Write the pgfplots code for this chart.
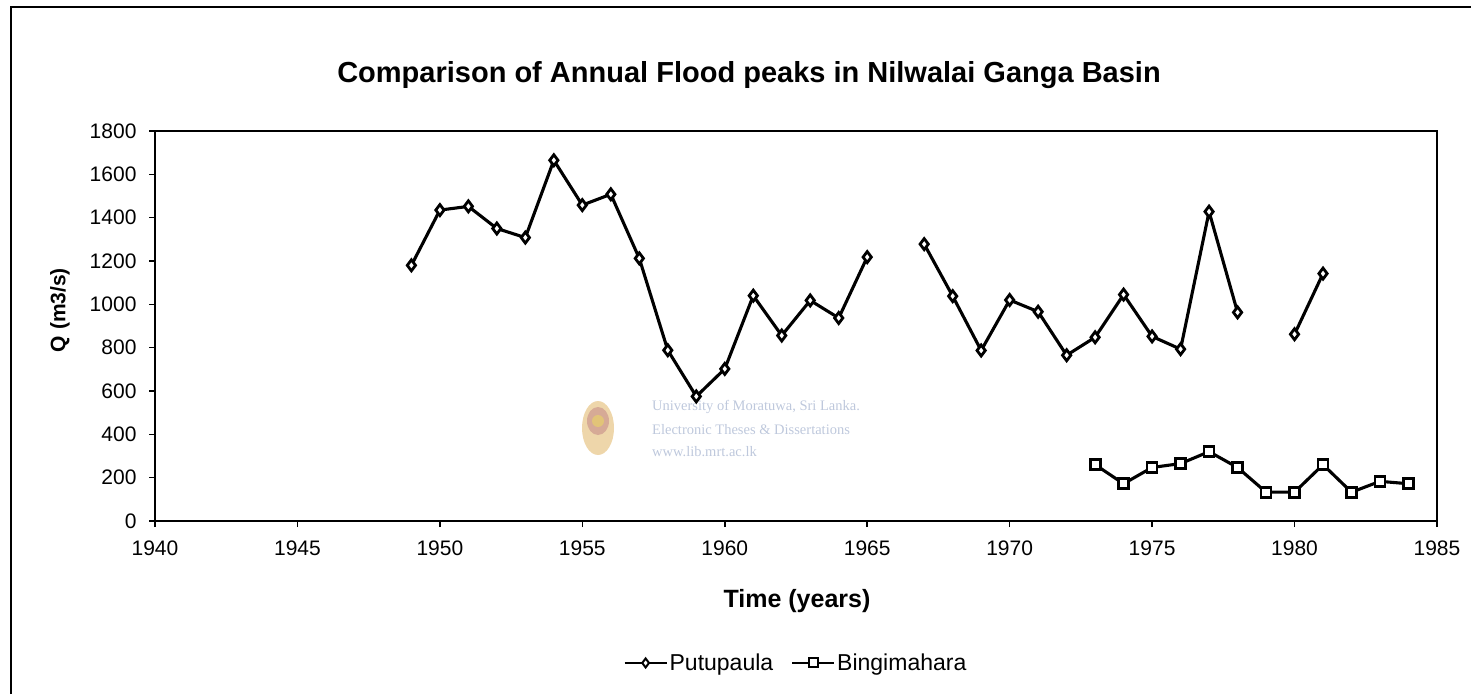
\documentclass[border=0pt]{standalone}
\usepackage{fontspec}
\setmainfont{Liberation Sans}
\newfontfamily\serifwm{Liberation Serif}
\usepackage{pgfplots}
\pgfplotsset{compat=1.18}
\usepackage{pgfplotstable}
\definecolor{wm}{RGB}{190,200,220}
\definecolor{logoA}{RGB}{238,214,170}
\definecolor{logoB}{RGB}{214,170,150}
\definecolor{logoC}{RGB}{226,196,120}

\pgfplotstableread{
year q
1949 1180
1950 1435
1951 1452
1952 1350
1953 1308
1954 1665
1955 1458
1956 1508
1957 1212
1958 788
1959 575
1960 702
1961 1040
1962 856
1963 1018
1964 937
1965 1218
1966 nan
1967 1278
1968 1038
1969 787
1970 1020
1971 966
1972 765
1973 848
1974 1045
1975 852
1976 793
1977 1428
1978 963
1979 nan
1980 862
1981 1142
}\putu

\pgfplotstableread{
year q
1973 260
1974 172
1975 247
1976 265
1977 320
1978 247
1979 133
1980 133
1981 260
1982 133
1983 183
1984 172
}\bingi

\begin{document}
\begin{tikzpicture}[x=1pt,y=1pt]
\useasboundingbox (-155,-173) rectangle (1316,521);
\draw[line width=1.5pt] (-144,-173) -- (-144,514) -- (1316,514);
% watermark
\fill[logoA] (443pt,93pt) ellipse (16pt and 27pt);
\fill[logoB] (443pt,100pt) ellipse (11pt and 14pt);
\fill[logoC] (443pt,100pt) circle (6pt);
\node[anchor=west, text=wm, font=\serifwm\fontsize{14.5}{17}\selectfont, inner sep=0pt] at (497,114) {University of Moratuwa, Sri Lanka.};
\node[anchor=west, text=wm, font=\serifwm\fontsize{14.5}{17}\selectfont, inner sep=0pt] at (497,91) {Electronic Theses \& Dissertations};
\node[anchor=west, text=wm, font=\serifwm\fontsize{14.5}{17}\selectfont, inner sep=0pt] at (497,69) {www.lib.mrt.ac.lk};
\begin{axis}[
  at={(0,0)}, anchor=south west,
  width=1282pt, height=390pt, scale only axis,
  xmin=1940, xmax=1985, ymin=0, ymax=1800,
  xtick={1940,1945,...,1985},
  ytick={0,200,...,1800},
  tick align=outside, tick pos=left,
  major tick length=6pt,
  axis line style={line width=1.6pt},
  every tick/.style={line width=1.5pt, black},
  ticklabel style={font=\fontsize{21}{25}\selectfont},
  xticklabel style={yshift=-10pt},
  yticklabel style={xshift=-9pt},
  /pgf/number format/1000 sep={},
  /pgf/number format/assume math mode=true,
  unbounded coords=jump,
  clip=false,
  legend style={at={(axis description cs:0.5,-0.364)}, anchor=center, draw=none, fill=none,
    legend columns=2, font=\fontsize{23}{27}\selectfont,
    /tikz/every even column/.append style={column sep=16pt}},
  legend image code/.code={\draw[mark repeat=2, mark phase=2, #1, line width=2pt, mark size=4.5pt, mark options={line width=2pt, fill=white}] plot coordinates {(0pt,0pt) (21pt,0pt) (42pt,0pt)};},
]
\addplot[black, line width=3.1pt, mark=diamond*, mark size=5.5pt, mark options={fill=white, line width=2.8pt, solid}] table[x=year, y=q] {\putu};
\addlegendentry{Putupaula}
\addplot[black, line width=3.1pt, mark=square*, mark size=5pt, mark options={fill=white, line width=2.8pt, solid}] table[x=year, y=q] {\bingi};
\addlegendentry{Bingimahara}
\end{axis}
\node[font=\bfseries\fontsize{29}{34}\selectfont] at (594,446) {Comparison of Annual Flood peaks in Nilwalai Ganga Basin};
\node[font=\bfseries\fontsize{25}{30}\selectfont] at (642,-80) {Time (years)};
\node[rotate=90, font=\bfseries\fontsize{21}{25}\selectfont] at (-95,211) {Q (m3/s)};
\end{tikzpicture}
\end{document}
